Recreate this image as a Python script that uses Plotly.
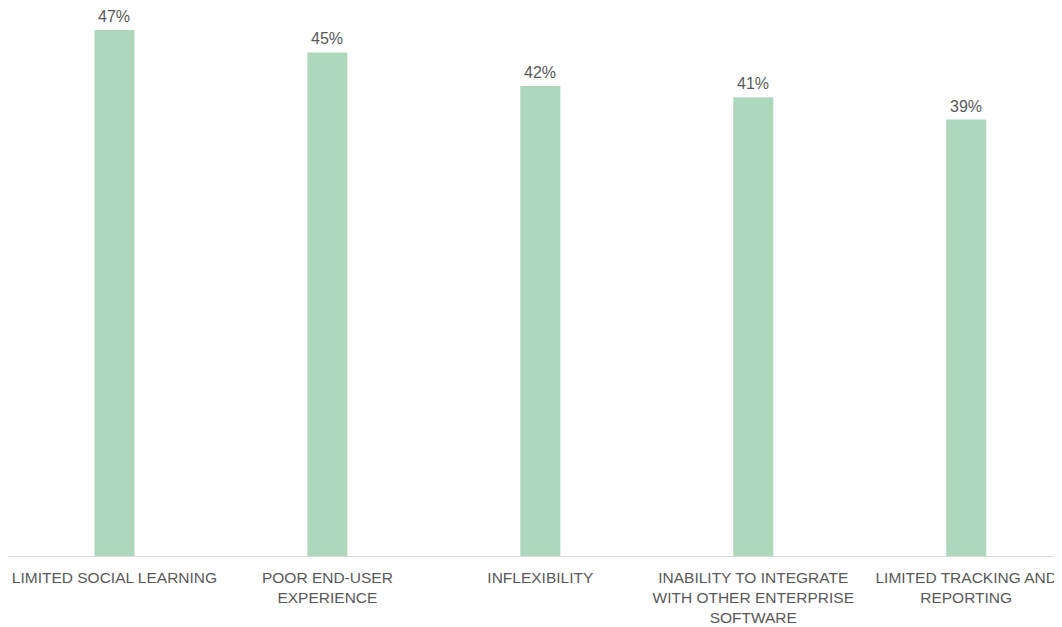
import plotly.graph_objects as go

categories = [
    "LIMITED SOCIAL LEARNING",
    "POOR END-USER<br>EXPERIENCE",
    "INFLEXIBILITY",
    "INABILITY TO INTEGRATE<br>WITH OTHER ENTERPRISE<br>SOFTWARE",
    "LIMITED TRACKING AND<br>REPORTING",
]
values = [47, 45, 42, 41, 39]
labels = [f"{v}%" for v in values]

FONT = "Liberation Sans, Arial"
TXT = "#595959"
x = list(range(len(categories)))

fig = go.Figure(
    go.Bar(
        x=x,
        y=values,
        marker=dict(color="#AED8BD", line=dict(width=0)),
        width=0.188,
        cliponaxis=False,
        hoverinfo="skip",
    )
)

for xi, v, lab in zip(x, values, labels):
    fig.add_annotation(
        x=xi, y=v, text=lab, showarrow=False,
        yanchor="bottom", xanchor="center", yshift=3,
        font=dict(family=FONT, size=16, color=TXT),
    )

fig.update_layout(
    width=1054,
    height=619,
    margin=dict(l=0, r=0, t=0, b=71, autoexpand=False),
    paper_bgcolor="white",
    plot_bgcolor="white",
    showlegend=False,
    font=dict(family=FONT, size=15.5, color=TXT),
    xaxis=dict(
        tickmode="array",
        tickvals=x,
        ticktext=categories,
        range=[-0.5, 4.45],
        showgrid=False,
        zeroline=False,
        showline=True,
        linecolor="#D9D9D9",
        linewidth=1,
        ticks="",
        automargin=False,
        ticklabelstandoff=7,
        tickfont=dict(family=FONT, size=15.5, color=TXT),
    ),
    yaxis=dict(
        range=[0, 48.97],
        visible=False,
        showgrid=False,
        zeroline=False,
        automargin=False,
    ),
)

fig.write_html("out.html")
